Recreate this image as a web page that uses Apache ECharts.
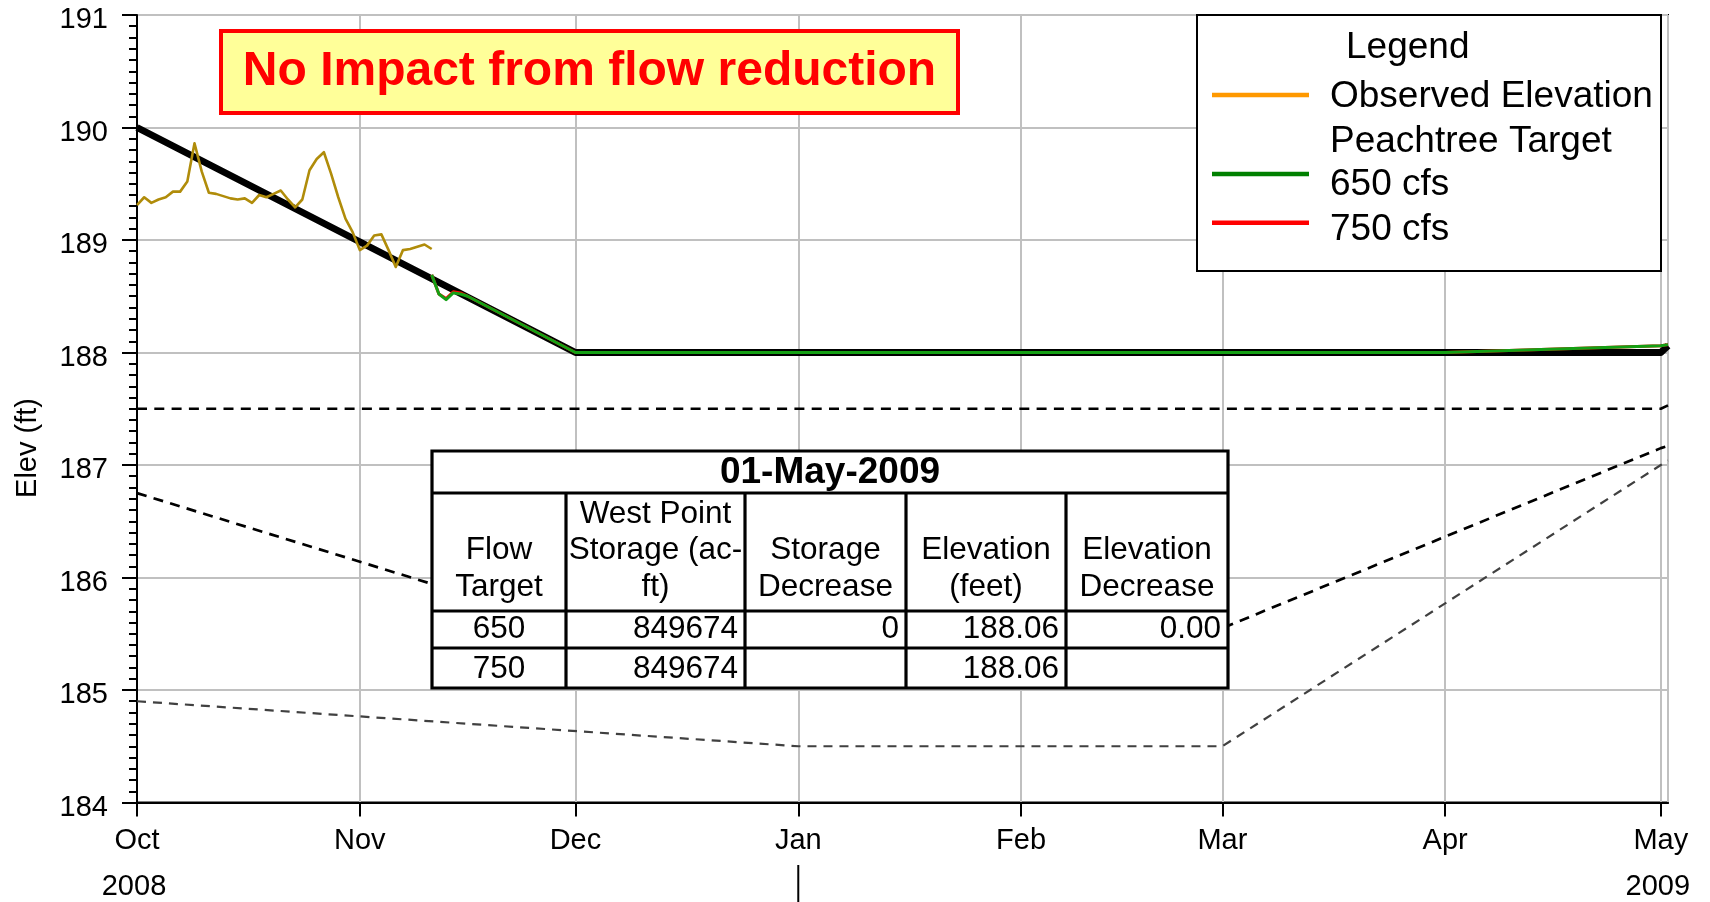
<!DOCTYPE html>
<html><head><meta charset="utf-8">
<script src="https://cdn.jsdelivr.net/npm/echarts@6/dist/echarts.min.js"></script>
<style>html,body{margin:0;padding:0;background:#fff}#c{width:1710px;height:902px}</style>
</head><body><div id="c"></div>
<script>
const FONT = '"Liberation Sans", Arial, sans-serif';
const monthNames = ['Jan','Feb','Mar','Apr','May','Jun','Jul','Aug','Sep','Oct','Nov','Dec'];
const xMin = '2008-10-01';
const xMax = '2009-05-02';
const yMin = 184, yMax = 191, yStep = 1;
const yAxisTitle = 'Elev (ft)';

// Observed elevation, daily from obsStart
const obsStart = '2008-10-01';
const observedValues = [189.31,189.38,189.33,189.36,189.38,189.43,189.43,189.52,189.86,189.61,
  189.42,189.41,189.39,189.37,189.36,189.37,189.33,189.40,189.38,189.41,
  189.44,189.36,189.29,189.36,189.62,189.72,189.78,189.59,189.38,189.19,
  189.07,188.91,188.95,189.04,189.05,188.91,188.76,188.91,188.92,188.94,
  188.96,188.92];

const target650Dates = ['2008-11-11','2008-11-12','2008-11-13','2008-11-14','2008-11-15','2008-11-16','2008-12-01','2009-04-01','2009-05-01','2009-05-02'];
const target650Values = [188.69,188.52,188.47,188.53,188.52,188.50,188.00,188.00,188.06,188.07];
const target750Dates = ['2008-11-11','2008-11-12','2008-11-13','2008-11-14','2008-11-15','2008-11-16','2008-12-01','2009-04-01','2009-05-01','2009-05-02'];
const target750Values = [188.69,188.52,188.48,188.54,188.53,188.50,188.00,188.00,188.06,188.07];

const guideDates = ['2008-10-01','2008-12-01','2009-05-01','2009-05-02'];
const guideValues = [190.0,188.0,188.0,188.06];

const upperDashDates = ['2008-10-01','2009-05-01','2009-05-02'];
const upperDashValues = [187.5,187.5,187.53];
const lowerDashDates = ['2008-10-01','2008-12-01','2009-03-01','2009-05-01','2009-05-02'];
const lowerDashValues = [186.75,185.55,185.55,187.15,187.17];
const grayDashDates = ['2008-10-01','2009-01-01','2009-03-01','2009-05-01','2009-05-02'];
const grayDashValues = [184.9,184.5,184.5,187.0,187.04];

const annotationText = 'No Impact from flow reduction';
const legendTitle = 'Legend';
const legendItems = [
  {label:'Observed Elevation', color:'#FF9900'},
  {label:'Peachtree Target', color:null},
  {label:'650 cfs', color:'#008000'},
  {label:'750 cfs', color:'#FF0000'}
];
const tableTitle = '01-May-2009';
const tableHeaders = [['Flow','Target'],['West Point','Storage (ac-','ft)'],['Storage','Decrease'],['Elevation','(feet)'],['Elevation','Decrease']];
const tableRows = [['650','849674','0','188.06','0.00'],['750','849674','','188.06','']];
const yearLabels = [['2008','2008-10-01'],['2009','2009-05-01']];
const yearBreak = '2009-01-01';

function ts(s){const p=s.split('-').map(Number);return new Date(p[0],p[1]-1,p[2]).getTime();}
function pairs(d,v){return d.map((x,i)=>[ts(x),v[i]]);}
const obsData = observedValues.map((v,i)=>{const p=obsStart.split('-').map(Number);return [new Date(p[0],p[1]-1,p[2]+i).getTime(),v];});

const chart = echarts.init(document.getElementById('c'), null, {renderer:'canvas'});
function ln(name,data,color,width,type,z){
  return {name,type:'line',data,showSymbol:false,symbol:'none',z:z,animation:false,
    lineStyle:{color,width,type:type||'solid',join:'round'}};
}
const option = {
  animation:false,
  backgroundColor:'#fff',
  grid:{left:137,right:42,top:15,bottom:99.5,show:true,borderColor:'#000',borderWidth:2,backgroundColor:'transparent'},
  xAxis:{type:'time',min:ts(xMin),max:ts(xMax),splitNumber:8,minInterval:28*864e5,maxInterval:31*864e5,
    axisLine:{show:true,lineStyle:{color:'#000',width:2}},
    axisTick:{show:true,length:14,lineStyle:{color:'#000',width:2}},
    splitLine:{show:true,lineStyle:{color:'#C0C0C0',width:2}},
    axisLabel:{fontSize:29,color:'#000',fontFamily:FONT,margin:24,
      formatter:function(v){return monthNames[new Date(v).getMonth()];}}},
  yAxis:{type:'value',min:yMin,max:yMax,interval:yStep,
    axisLine:{show:true,lineStyle:{color:'#000',width:2}},
    axisTick:{show:true,length:15,lineStyle:{color:'#000',width:2}},
    minorTick:{show:true,splitNumber:10,length:8,lineStyle:{color:'#000',width:2}},
    splitLine:{show:true,lineStyle:{color:'#C0C0C0',width:2}},
    axisLabel:{fontSize:29,color:'#000',fontFamily:FONT,margin:29,verticalAlign:'top',lineHeight:10}},
  series:[
    ln('Gray Zone',pairs(grayDashDates,grayDashValues),'#404040',2.2,[9,7],2),
    ln('Lower Zone',pairs(lowerDashDates,lowerDashValues),'#000',2.7,[10,7.3],2),
    ln('Upper Zone',pairs(upperDashDates,upperDashValues),'#000',2.7,[10,7.3],2),
    ln('Guide',pairs(guideDates,guideValues),'#000',7,'solid',3),
    ln('750 cfs',pairs(target750Dates,target750Values),'#FF0000',3,'solid',4),
    ln('650 cfs',pairs(target650Dates,target650Values),'#14A014',3,'solid',5),
    ln('Observed Elevation',obsData,'#B08C0A',2.6,'solid',6)
  ]
};
chart.setOption(option);

function txt(t,x,y,size,opts){
  opts=opts||{};
  return {type:'text',z:100,style:{text:t,x:x,y:y,fill:opts.fill||'#000',
    font:(opts.bold?'bold ':'')+size+'px '+FONT,align:opts.align||'left',verticalAlign:'middle',
    textAlign:opts.align||'left',textVerticalAlign:'middle'}};
}
function line(x1,y1,x2,y2,w,c){
  return {type:'line',z:100,shape:{x1,y1,x2,y2},style:{stroke:c||'#000',lineWidth:w}};
}
const g = [];
// y axis title
g.push({type:'text',z:100,x:28,y:448,rotation:Math.PI/2,
  style:{text:yAxisTitle,x:0,y:0,fill:'#000',font:'29px '+FONT,align:'center',verticalAlign:'middle',textAlign:'center',textVerticalAlign:'middle'}});
// annotation box
g.push({type:'rect',z:100,shape:{x:221,y:31,width:737,height:82},style:{fill:'#FFFF99',stroke:'#FF0000',lineWidth:4}});
g.push(txt(annotationText,589.5,72,48,{bold:true,fill:'#FF0000',align:'center'}));
// legend
g.push({type:'rect',z:100,shape:{x:1197,y:15,width:464,height:256},style:{fill:'#fff',stroke:'#000',lineWidth:2}});
g.push(txt(legendTitle,1346,48,37));
const legTextY=[96.7,141.7,185,230];
const legLineY=[95,null,174,222.7];
legendItems.forEach((it,i)=>{
  g.push(txt(it.label,1330,legTextY[i],37));
  if(it.color) g.push(line(1212,legLineY[i],1309,legLineY[i],4.5,it.color));
});
// table
const colX=[432,566,745,906,1066,1228];
const rowY=[451,493,611,648,688];
g.push({type:'rect',z:100,shape:{x:colX[0],y:rowY[0],width:colX[5]-colX[0],height:rowY[4]-rowY[0]},style:{fill:'#fff',stroke:'#000',lineWidth:3.2}});
for(let r=1;r<rowY.length-1;r++) g.push(line(colX[0],rowY[r],colX[5],rowY[r],3.2));
for(let c=1;c<colX.length-1;c++) g.push(line(colX[c],rowY[1],colX[c],rowY[4],3.2));
g.push(txt(tableTitle,(colX[0]+colX[5])/2,473,37,{bold:true,align:'center'}));
tableHeaders.forEach((lines,c)=>{
  const cx=(colX[c]+colX[c+1])/2;
  const n=lines.length;
  lines.forEach((t,k)=>{g.push(txt(t,cx,587-(n-1-k)*36.5,31.5,{align:'center'}));});
});
const rowMid=[629,669];
tableRows.forEach((row,r)=>{
  row.forEach((t,c)=>{
    if(!t) return;
    if(c===0) g.push(txt(t,(colX[0]+colX[1])/2,rowMid[r],31.5,{align:'center'}));
    else g.push(txt(t,colX[c+1]-7,rowMid[r],31.5,{align:'right'}));
  });
});
// year labels and separator
yearLabels.forEach(([t,d])=>{
  const x=chart.convertToPixel({xAxisIndex:0},ts(d));
  g.push(txt(t,x-3,887,29,{align:'center'}));
});
const xb=chart.convertToPixel({xAxisIndex:0},ts(yearBreak));
g.push(line(xb,865,xb,902,2));
chart.setOption({graphic:g});
</script></body></html>
